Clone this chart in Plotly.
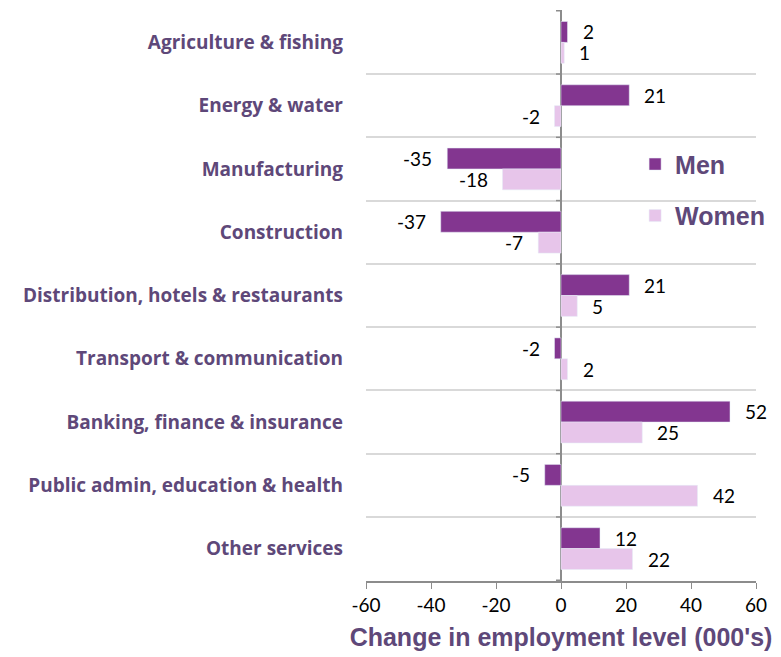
import plotly.graph_objects as go

categories = [
    'Agriculture & fishing',
    'Energy & water',
    'Manufacturing',
    'Construction',
    'Distribution, hotels & restaurants',
    'Transport & communication',
    'Banking, finance & insurance',
    'Public admin, education & health',
    'Other services',
]
men = [2, 21, -35, -37, 21, -2, 52, -5, 12]
women = [1, -2, -18, -7, 5, 2, 25, 42, 22]
x_ticks = [-60, -40, -20, 0, 20, 40, 60]

MEN_COLOR = '#833690'
WOMEN_COLOR = '#E7C5EA'
TEXT_PURPLE = '#5E4879'
AXIS_GREY = '#8C8C8C'

fig = go.Figure()
fig.add_trace(go.Bar(
    y=categories, x=men, name='Men', orientation='h',
    marker_color=MEN_COLOR, legendgroup='men',
))
fig.add_trace(go.Bar(
    y=categories, x=women, name='Women', orientation='h',
    marker_color=WOMEN_COLOR, legendgroup='women',
))

# data labels, offset from the bar ends
for series, shift_y in ((men, 10.5), (women, -10.5)):
    for cat, val in zip(categories, series):
        fig.add_annotation(
            x=val, y=cat, text=str(val), showarrow=False,
            xanchor='left' if val >= 0 else 'right',
            xshift=13 if val >= 0 else -13,
            yshift=shift_y,
            font=dict(family='Lato', size=19, color='black'),
        )

# little tick marks on the zero line between categories
for i in range(len(categories) + 1):
    fig.add_shape(
        type='line', xref='x', yref='y', xsizemode='pixel', xanchor=0,
        x0=-5, x1=0, y0=i - 0.5, y1=i - 0.5,
        line=dict(color=AXIS_GREY, width=1.5),
    )

# page body has an 8px margin, so the plot area is pulled up/left by 8px
fig.update_layout(
    width=781, height=657,
    margin=dict(l=358, r=33, t=2, b=84, autoexpand=False),
    plot_bgcolor='white', paper_bgcolor='white',
    barmode='group', bargap=0.34, bargroupgap=0,
    legend=dict(
        x=0.69, y=0.77, xanchor='left', yanchor='top',
        font=dict(family='Liberation Sans', size=25, color=TEXT_PURPLE, weight='bold'),
        tracegroupgap=16, bgcolor='rgba(0,0,0,0)',
    ),
    xaxis=dict(
        range=[-60, 60], tickvals=x_ticks, ticktext=[str(t) for t in x_ticks],
        showgrid=False,
        zeroline=True, zerolinecolor=AXIS_GREY, zerolinewidth=1.5,
        showline=True, linecolor=AXIS_GREY, linewidth=1.5,
        ticks='outside', ticklen=6, tickcolor=AXIS_GREY,
        tickfont=dict(family='Lato', size=19, color='black'),
        title=dict(
            text="Change in employment level (000's)", standoff=14,
            font=dict(family='Liberation Sans', size=25, color=TEXT_PURPLE, weight='bold'),
        ),
    ),
    yaxis=dict(
        autorange='reversed', tickson='boundaries',
        showgrid=True, gridcolor='#D9D9D9', gridwidth=1.5,
        ticks='', ticklabelstandoff=22,
        tickfont=dict(family='Open Sans', size=19, color=TEXT_PURPLE, weight='bold'),
    ),
)

fig.write_html('out.html')
